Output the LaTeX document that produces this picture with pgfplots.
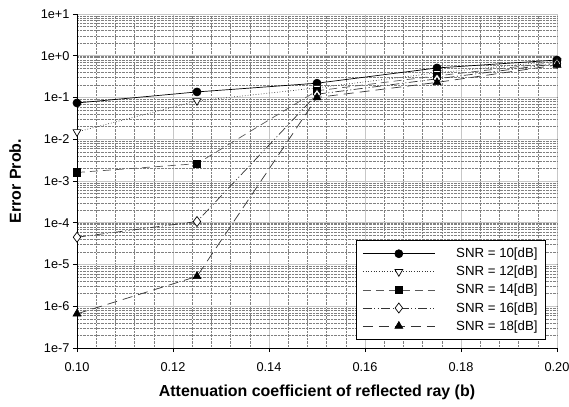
\documentclass[border=0pt]{standalone}
\usepackage{fontspec}
\setmainfont{Liberation Sans}
\usepackage{pgfplots}
\pgfplotsset{compat=1.18}

\begin{document}
\begin{tikzpicture}
\useasboundingbox (-77bp,-59bp) rectangle (492bp,348bp);
\begin{axis}[
  at={(0,0)}, anchor=south west,
  scale only axis,
  width=480bp, height=334bp,
  ymode=log,
  xmin=0.10, xmax=0.20,
  ymin=1e-7, ymax=1e1,
  xtick={0.10,0.12,0.14,0.16,0.18,0.20},
  xticklabel style={yshift=-7bp,/pgf/number format/fixed,/pgf/number format/fixed zerofill,/pgf/number format/precision=2},
  minor x tick num=4,
  ytick={1e-7,1e-6,1e-5,1e-4,1e-3,1e-2,1e-1,1e0,1e1},
  yticklabels={1e-7,1e-6,1e-5,1e-4,1e-3,1e-2,1e-1,1e+0,1e+1},
  /pgf/number format/assume math mode=true,
  tick label style={font=\fontsize{12.8}{15}\selectfont},
  label style={font=\fontsize{16}{19}\selectfont\bfseries},
  xlabel={Attenuation coefficient of reflected ray (b)},
  ylabel={Error Prob.},
  xlabel style={at={(axis description cs:0.5,-0.132)}, anchor=center},
  ylabel style={at={(axis description cs:-0.129,0.5)}, anchor=center},
  axis x line*=bottom, axis y line*=left,
  axis line style={black, line width=0.8pt},
  tick align=outside,
  major tick length=4bp, minor tick length=0pt,
  tick style={black, line width=0.6pt},
  grid=both,
  major grid style={solid, black!22, line width=0.8pt},
  minor grid style={densely dotted, black!50, line width=0.4pt},
  legend style={at={(0.977,0.024)}, anchor=south east, draw=black, line width=0.8pt,
    fill=white, font=\fontsize{13.3}{16}\selectfont, row sep=3bp, inner xsep=6bp, inner ysep=6bp,
    /tikz/every odd column/.append style={column sep=19bp}},
  legend cell align=right,
  legend image code/.code={\draw[mark repeat=2,mark phase=2,#1] plot coordinates {(0bp,0bp) (36bp,0bp) (72bp,0bp)};},
]
\addplot[black, solid, line width=0.7pt, mark=*, mark size=4bp, mark options={solid,fill=black}] coordinates {
  (0.100,0.074) (0.125,0.136) (0.150,0.22) (0.175,0.51) (0.200,0.79)
};
\addlegendentry{SNR = 10[dB]}
\addplot[black!80, dotted, line width=0.7pt, mark=triangle*, mark size=4.5bp, mark options={solid,fill=white,draw=black,rotate=180}] coordinates {
  (0.100,0.015) (0.125,0.083) (0.150,0.17) (0.175,0.39) (0.200,0.75)
};
\addlegendentry{SNR = 12[dB]}
\addplot[black!65, dash pattern=on 8bp off 5bp, line width=0.7pt, mark=square*, mark size=3.8bp, mark options={solid,fill=black,draw=black}] coordinates {
  (0.100,0.0016) (0.125,0.0026) (0.150,0.145) (0.175,0.33) (0.200,0.70)
};
\addlegendentry{SNR = 14[dB]}
\addplot[black!80, dash pattern=on 9bp off 2.5bp on 1bp off 2.5bp on 1bp off 2.5bp, line width=0.7pt, mark=diamond*, mark size=5bp, mark options={solid,fill=white,draw=black}] coordinates {
  (0.100,4.5e-5) (0.125,1.07e-4) (0.150,0.12) (0.175,0.28) (0.200,0.65)
};
\addlegendentry{SNR = 16[dB]}
\addplot[black!80, dash pattern=on 10bp off 6bp, line width=0.7pt, mark=triangle*, mark size=4.5bp, mark options={solid,fill=black,draw=black}] coordinates {
  (0.100,6.6e-7) (0.125,5.2e-6) (0.150,0.10) (0.175,0.23) (0.200,0.60)
};
\addlegendentry{SNR = 18[dB]}
\end{axis}
\end{tikzpicture}
\end{document}
